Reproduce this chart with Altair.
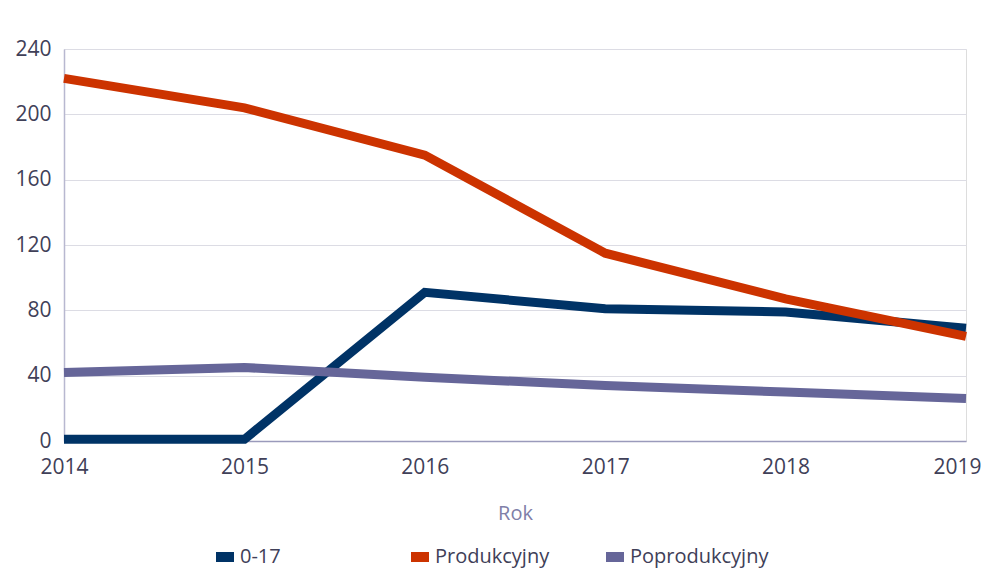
import altair as alt
import pandas as pd

years = [2014, 2015, 2016, 2017, 2018, 2019]
series_names = ["0-17", "Produkcyjny", "Poprodukcyjny"]
v_0_17 = [1, 1, 91, 81, 79, 69]
v_prod = [222, 204, 175, 115, 87, 64]
v_poprod = [42, 45, 39, 34, 30, 26]
colors = ["#003366", "#CC3300", "#666699"]

rows = []
for name, vals in zip(series_names, [v_0_17, v_prod, v_poprod]):
    for y, v in zip(years, vals):
        rows.append({"Rok": y, "Wartość": v, "Seria": name, "order": series_names.index(name)})
df = pd.DataFrame(rows)

font = "Open Sans"

chart = alt.Chart(df).mark_line(strokeWidth=9, strokeCap="butt", strokeJoin="miter").encode(
    x=alt.X("Rok:Q",
            scale=alt.Scale(domain=[2014, 2019], nice=False, zero=False),
            axis=alt.Axis(values=years, format="d", grid=False, ticks=False,
                          domainColor="#9a9abb", domainWidth=1.5,
                          labelFont=font, labelFontSize=21, labelColor="#404058",
                          labelPadding=15, labelFlush=False,
                          labelOffset={"condition": {"test": "datum.value == 2019", "value": -9},
                                       "value": 0},
                          title="Rok", titleFont=font, titleFontSize=20,
                          titleFontWeight="normal", titleColor="#8080a8",
                          titlePadding=26)),
    y=alt.Y("Wartość:Q",
            scale=alt.Scale(domain=[0, 240], nice=False),
            axis=alt.Axis(values=[0, 40, 80, 120, 160, 200, 240], grid=True,
                          gridColor="#dcdce4", gridWidth=1, ticks=False,
                          domainColor="#b8b8d0", domainWidth=1.5,
                          labelFont=font, labelFontSize=21, labelColor="#404058",
                          labelPadding=13, title=None)),
    color=alt.Color("Seria:N",
                    scale=alt.Scale(domain=series_names, range=colors),
                    sort=series_names,
                    legend=alt.Legend(title=None, orient="none", legendX=147, legendY=494,
                                      direction="horizontal", columns=3,
                                      symbolType="stroke", symbolSize=324,
                                      symbolStrokeWidth=10, gridAlign="all",
                                      columnPadding=12, labelFont=font,
                                      labelFontSize=20, labelColor="#404058",
                                      labelOffset=1)),
    order=alt.Order("order:Q"),
).properties(
    width=902, height=392,
    padding={"left": 56, "top": 41, "right": 15, "bottom": 128},
    autosize=alt.AutoSizeParams(type="none"),
).configure_view(stroke=None).configure(background="white")

chart.save("out.html", embed_options={"renderer": "svg", "actions": False})
